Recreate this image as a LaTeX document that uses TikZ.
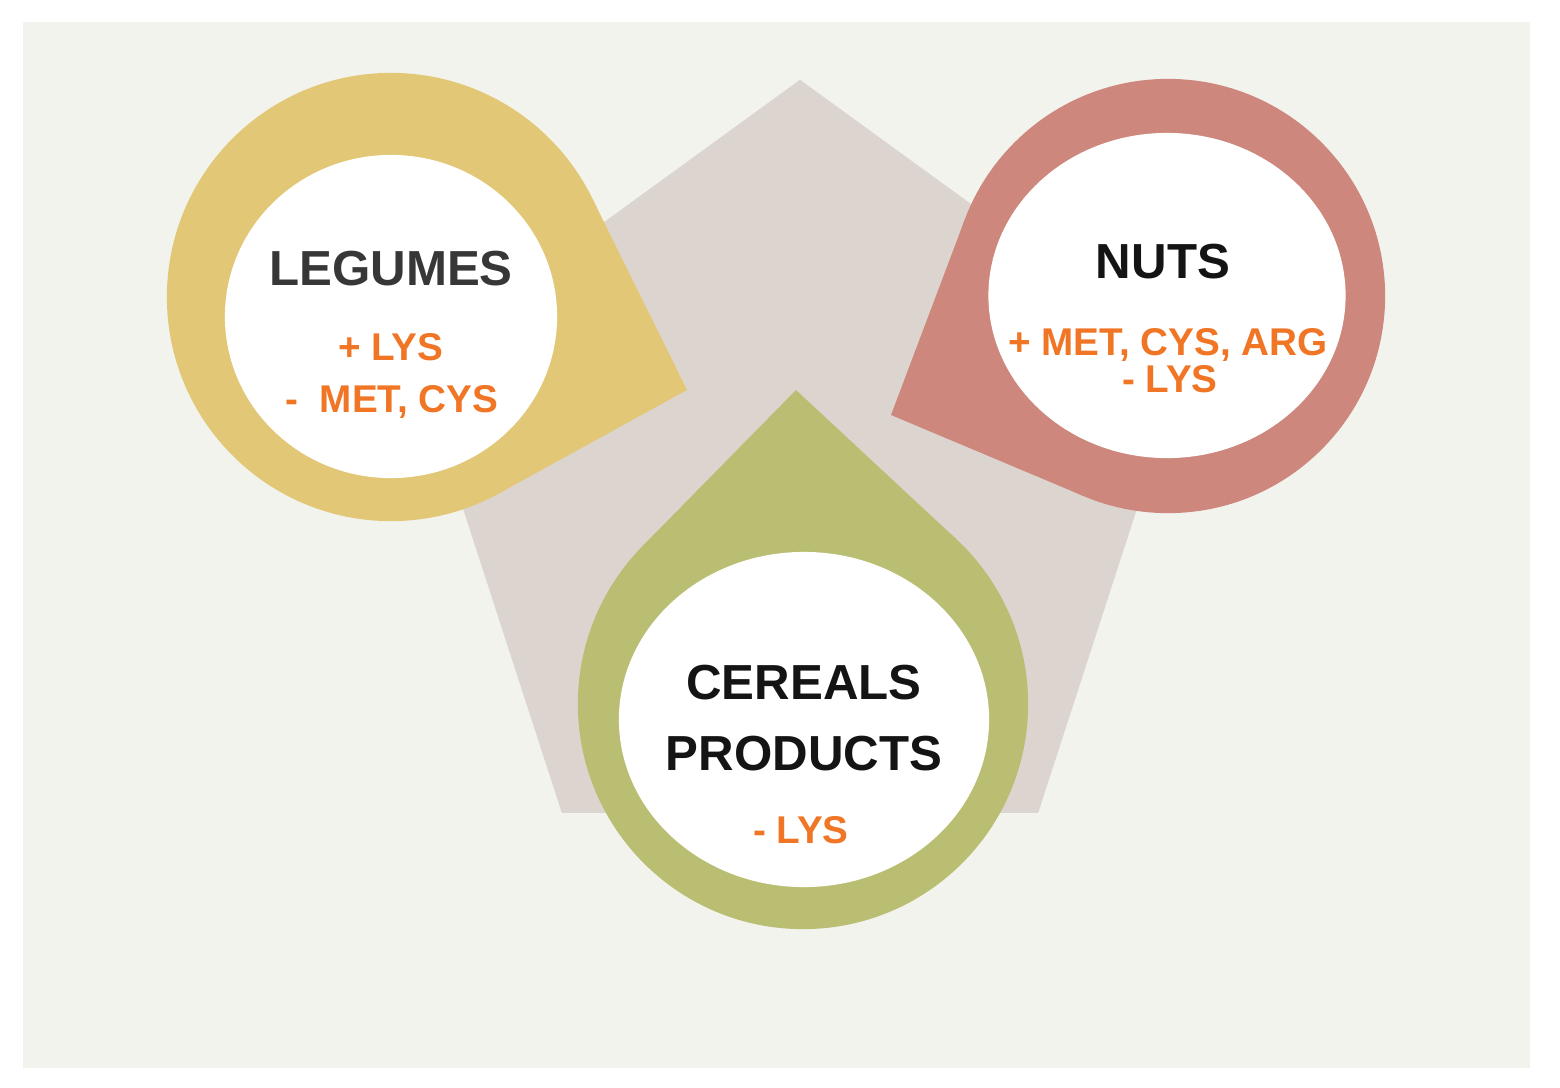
\documentclass[tikz,border=0pt]{standalone}
\usepackage{fontspec}
\setmainfont{Liberation Sans}
\usetikzlibrary{positioning, calc, shapes.geometric}

\definecolor{bgcol}{HTML}{F2F3EC}
\definecolor{pentacol}{HTML}{DCD5CF}
\definecolor{legcol}{HTML}{E2C777}
\definecolor{nutcol}{HTML}{CD877C}
\definecolor{cercol}{HTML}{B9BE72}
\definecolor{aminocol}{HTML}{F07626}
\definecolor{titlecol}{HTML}{141414}

\begin{document}
\begin{tikzpicture}[
    % GLOBAL CFG
    x=0.01cm, y=-0.01cm,
    font=\bfseries,
    % Styles
    base/.style={% For the pentagon behind the drops
        regular polygon,
        regular polygon sides=5,
        fill=pentacol,
        inner sep=0pt,
        outer sep=0pt,
        minimum size=8.1cm,
        },
    drop/.style={% For the coloured round part of a drop
        circle,
        inner sep=0pt,
        outer sep=0pt,
        },
    hole/.style={% For the white centre of a drop
        ellipse,
        fill=white,
        inner sep=0pt,
        },
    title/.style={% Group names
        anchor=base,
        font=\fontsize{14}{16}\selectfont\bfseries,
        text=titlecol,
        },
    amino/.style={% Amino acid lines
        anchor=base,
        font=\fontsize{11}{13}\selectfont\bfseries,
        text=aminocol,
        },
    ]

%Start drawing the thing...
    \useasboundingbox (0,0) rectangle (1560,1087);
    \fill[white] (0,0) rectangle (1560,1087);
    \fill[bgcol] (23,22) rectangle (1530,1068);

    % Draw the pentagon
    \node [base] (penta) at (800,485) {};

    % Draw the drops: circle + tip
    \node [drop, fill=legcol, minimum size=4.48cm] (leg_out) at (391,297) {};
    \coordinate (leg_tip) at (687,390);
    \fill [legcol] (leg_tip) -- (tangent cs:node=leg_out,point={(leg_tip)},solution=1)
        -- (tangent cs:node=leg_out,point={(leg_tip)},solution=2) -- cycle;

    \node [drop, fill=nutcol, minimum size=4.34cm] (nut_out) at (1168,296) {};
    \coordinate (nut_tip) at (891,415);
    \fill [nutcol] (nut_tip) -- (tangent cs:node=nut_out,point={(nut_tip)},solution=1)
        -- (tangent cs:node=nut_out,point={(nut_tip)},solution=2) -- cycle;

    \node [drop, fill=cercol, minimum size=4.5cm] (cer_out) at (803,704) {};
    \coordinate (cer_tip) at (796,390);
    \fill [cercol] (cer_tip) -- (tangent cs:node=cer_out,point={(cer_tip)},solution=1)
        -- (tangent cs:node=cer_out,point={(cer_tip)},solution=2) -- cycle;

    % Draw the white centres
    \node [hole, minimum width=3.32cm, minimum height=3.23cm] (leg_in) at (391,316.5) {};
    \node [hole, minimum width=3.57cm, minimum height=3.25cm] (nut_in) at (1167,295.5) {};
    \node [hole, minimum width=3.7cm, minimum height=3.35cm] (cer_in) at (804,719.5) {};

    % Texts
    \node [title, text=titlecol!85!white] (leg_name) at (391,285) {LEGUMES};
    \node [amino] (leg_plus) at (391,360) {+ LYS};
    \node [amino] (leg_minus) at (392,412) {-~~MET, CYS};

    \node [title] (nut_name) at (1163,278) {NUTS};
    \node [amino] (nut_plus) at (1168,355) {+ MET, CYS, ARG};
    \node [amino] (nut_minus) at (1170,392) {- LYS};

    \node [title] (cer_name) at (804,699) {CEREALS};
    \node [title] (cer_name2) at (804,770) {PRODUCTS};
    \node [amino] (cer_minus) at (801,843) {- LYS};

\end{tikzpicture}
\end{document}
